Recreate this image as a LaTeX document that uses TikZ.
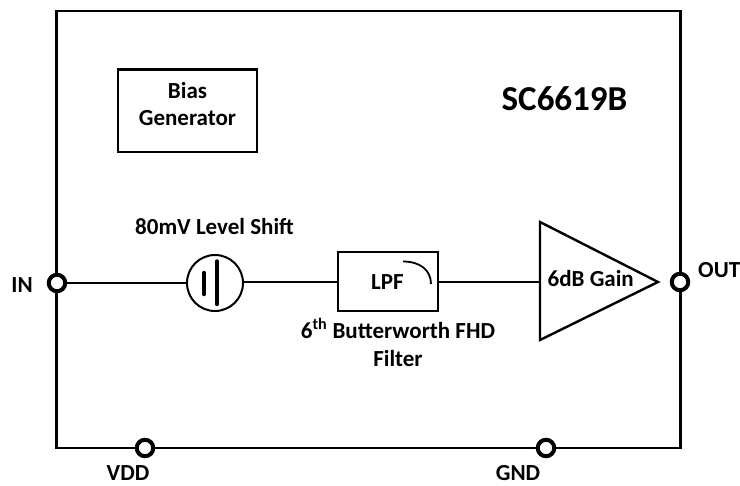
\documentclass[tikz,border=0pt]{standalone}
\usepackage{fontspec}
\setmainfont{Carlito}
\usetikzlibrary{calc}
\tikzset{
  pin/.style={circle,draw=black,fill=white,line width=4pt,minimum size=16.5pt,inner sep=0pt,outer sep=0pt},
  wire/.style={draw=black,line width=2.2pt},
  txt/.style={font=\fontsize{23}{27.5}\selectfont\bfseries,inner sep=0pt,text=black},
  lab/.style={txt,align=center},
  block/.style={draw=black,line width=2.4pt,fill=white,inner sep=0pt,outer sep=0pt}
}
\begin{document}
\begin{tikzpicture}[x=1pt,y=-1pt]
\useasboundingbox (0,0) rectangle (740,486);
\node[block,fill=none,line width=2.6pt,minimum width=623.5pt,minimum height=437pt] (chip) at (368.5,229.5) {};
\node[block,minimum width=139pt,minimum height=82.5pt] (bias) at (187.5,110.75) {};
\node[lab] (biast) at (187.5,104) {Bias\\Generator};
\node[txt,font=\fontsize{35}{40}\selectfont\bfseries] (name) at (564.5,99) {SC6619B};
\node[pin] (in) at (57,283) {};
\node[pin] (out) at (680,282) {};
\node[pin] (vdd) at (145,448) {};
\node[pin] (gnd) at (546,448) {};
\node[circle,draw=black,line width=2pt,fill=white,minimum size=56pt,inner sep=0pt,outer sep=0pt] (shift) at (215,283) {};
\node[block,minimum width=100pt,minimum height=59pt] (lpf) at (388,281.5) {};
\node[txt] (lpft) at (387.5,282) {LPF};
\coordinate (t1) at (540,222);
\coordinate (t2) at (540,340);
\coordinate (t3) at (658,282);
\coordinate (ampin) at (540,282);
\draw[line width=2.4pt,line join=miter,fill=white] (t1) -- (t2) -- (t3) -- cycle;
\node[txt] (gain) at (590.7,279) {6dB Gain};
\draw[wire] (in) -- (shift);
\coordinate (lpfin) at (338,282);
\draw[wire] (shift.east |- lpfin) -- (lpfin);
\draw[wire] (lpf.east |- ampin) -- (ampin);
\coordinate (b1) at (204,272.5);
\coordinate (b2) at (204,294.5);
\coordinate (b3) at (217,261);
\coordinate (b4) at (217,304.5);
\draw[line width=3.4pt,line cap=round] (b1) -- (b2);
\draw[line width=3.4pt,line cap=round] (b3) -- (b4);
\coordinate (c1) at (403,261.5);
\coordinate (c2) at (431,284);
\draw[line width=1.8pt] (c1) .. controls (420,261.5) and (431,270) .. (c2);
\node[txt] (shiftt) at (214.5,227) {80mV Level Shift};
\node[lab,anchor=north] (filt) at (398,318) {6\textsuperscript{th} Butterworth FHD\\Filter};
\node[txt] (inl) at (22,285) {IN};
\node[txt,anchor=west] (outl) at (698,270) {OUT};
\node[txt] (vddl) at (128,473) {VDD};
\node[txt] (gndl) at (518,473) {GND};
\end{tikzpicture}
\end{document}
